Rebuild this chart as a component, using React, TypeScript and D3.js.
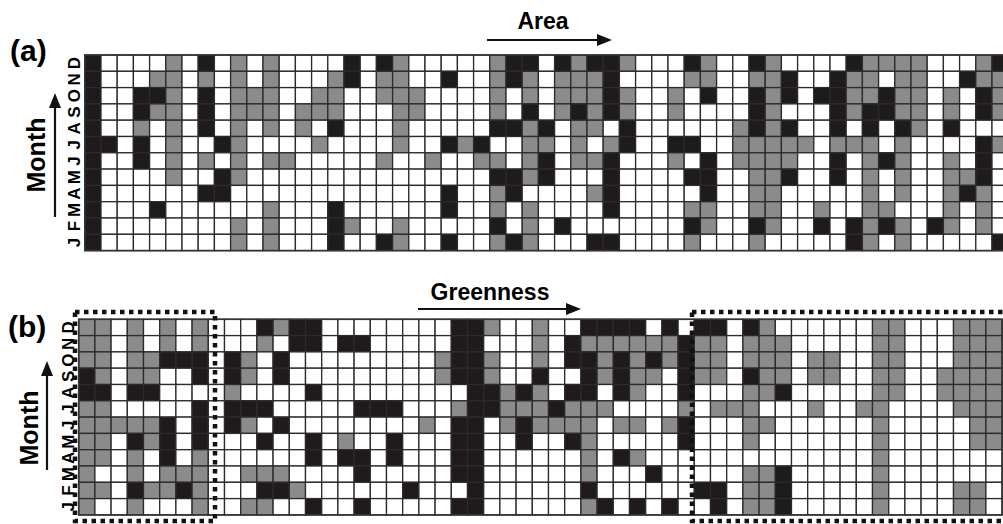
import React, { useEffect, useRef } from "react";
import * as d3 from "d3";

// month labels, bottom (Jan) to top (Dec)
const monthLabels = ["J", "F", "M", "A", "M", "J", "J", "A", "S", "O", "N", "D"];

// cell classes per row, listed top row (Dec) to bottom row (Jan)
// 0 = white, 1 = grey, 2 = black
const areaRows = [
  "200001020101" + "00002021000" + "00122021221" + "00021002100" + "002111100012",
  "200011010101" + "00012011002" + "00121011120" + "00011001120" + "021101100211",
  "200221020111" + "00110011100" + "00101011121" + "00102002120" + "221121101021",
  "200211020111" + "01110001100" + "00102012121" + "00100002100" + "021221101021",
  "200101020101" + "01020001000" + "00221201102" + "00000012120" + "020202102000",
  "220201002100" + "00100001002" + "12001101012" + "00220011111" + "011101000021",
  "200201010101" + "10000010010" + "01101201120" + "00102011110" + "020121001020",
  "200001002100" + "00000000000" + "00221200020" + "00022001120" + "020101001120",
  "200000022000" + "00000000002" + "00120000120" + "00002001100" + "000101001210",
  "200020000001" + "00020000002" + "00101000020" + "00011001100" + "100110001010",
  "200000000101" + "00021001000" + "00201020000" + "00021002100" + "202121021010",
  "200000000101" + "00020021002" + "00121000220" + "00010001000" + "002101000002",
];

const greennessRows = [
  "110101010002" + "12200000000" + "22100100222" + "20202202100" + "000011000111",
  "110101010001" + "02202200000" + "22000102111" + "11121101110" + "000011000111",
  "110112220210" + "20000000001" + "22100102212" + "12121101110" + "110011000111",
  "210110020210" + "20000000001" + "22100200212" + "11021102110" + "110011001111",
  "220220000100" + "00200000000" + "02212102202" + "10020001120" + "000011001111",
  "110000020222" + "00000222000" + "12211121110" + "00010111000" + "100110000111",
  "111112020210" + "20000000010" + "22012111101" + "10120001100" + "000010000011",
  "110212020002" + "00201002000" + "22002002100" + "00020001000" + "000010000011",
  "110102010000" + "00202202000" + "22000000102" + "10000000000" + "000010000000",
  "100101110011" + "10000200000" + "22000000100" + "02000001120" + "000010000000",
  "110211210002" + "21000000200" + "02000000200" + "00002201120" + "000010000110",
  "100100010011" + "00200200000" + "22000000120" + "20200201120" + "000010000110",
];

const fills = ["#ffffff", "#8b8b8b", "#1f1b1c"];
const CW = 16.2;
const RH = 16.3;
const FONT = "'Liberation Sans', Arial, sans-serif";

const panels = [
  {
    tag: "(a)", tagX: 10, tagY: 61,
    title: "Area", titleX: 543, titleY: 29, arrow: [487, 612, 40],
    rows: areaRows, x0: 84.8, y0: 55,
    monthX: 36, monthY: 155, upX: 55, upTop: 93, upBottom: 217, letterX: 74,
    boxes: [] as number[][],
  },
  {
    tag: "(b)", tagX: 8, tagY: 337,
    title: "Greenness", titleX: 490, titleY: 300, arrow: [418, 581, 309],
    rows: greennessRows, x0: 78.7, y0: 319.3,
    monthX: 29, monthY: 428, upX: 47, upTop: 361, upBottom: 470, letterX: 68,
    boxes: [[75, 215], [692, 1012]],
  },
];

export default function App() {
  const ref = useRef<SVGSVGElement>(null);

  useEffect(() => {
    const svg = d3.select(ref.current);
    svg.selectAll("*").remove();

    panels.forEach((p) => {
      const ncol = p.rows[0].length;
      const x = d3.scaleBand<number>().domain(d3.range(ncol)).range([p.x0, p.x0 + ncol * CW]);
      const y = d3.scaleBand<number>().domain(d3.range(12)).range([p.y0, p.y0 + 12 * RH]);
      const g = svg.append("g");

      const cells = p.rows.flatMap((row, r) =>
        row.split("").map((v, c) => ({ r, c, v: +v }))
      );
      g.selectAll("rect.cell")
        .data(cells)
        .join("rect")
        .attr("class", "cell")
        .attr("x", (d) => x(d.c)!)
        .attr("y", (d) => y(d.r)!)
        .attr("width", x.bandwidth())
        .attr("height", y.bandwidth())
        .attr("fill", (d) => fills[d.v])
        .attr("stroke", "#2b2b2b")
        .attr("stroke-width", 1.3);

      g.append("rect")
        .attr("x", p.x0)
        .attr("y", p.y0)
        .attr("width", ncol * CW)
        .attr("height", 12 * RH)
        .attr("fill", "none")
        .attr("stroke", "#333")
        .attr("stroke-width", 1.6);

      // month letters
      g.selectAll("text.month")
        .data(d3.range(12))
        .join("text")
        .attr("class", "month")
        .attr("transform", (r) => `translate(${p.letterX},${y(r)! + y.bandwidth() / 2}) rotate(-90)`)
        .attr("text-anchor", "middle")
        .attr("dominant-baseline", "central")
        .attr("font-family", FONT)
        .attr("font-weight", "bold")
        .attr("font-size", 17)
        .text((r) => monthLabels[11 - r]);

      // Month axis title with upward arrow
      g.append("text")
        .attr("transform", `translate(${p.monthX},${p.monthY}) rotate(-90)`)
        .attr("text-anchor", "middle")
        .attr("dominant-baseline", "central")
        .attr("font-family", FONT)
        .attr("font-weight", "bold")
        .attr("font-size", 25)
        .text("Month");
      g.append("line")
        .attr("x1", p.upX).attr("x2", p.upX)
        .attr("y1", p.upBottom).attr("y2", p.upTop + 10)
        .attr("stroke", "#111").attr("stroke-width", 2.2);
      g.append("path")
        .attr("d", `M${p.upX},${p.upTop} L${p.upX - 6},${p.upTop + 15} L${p.upX + 6},${p.upTop + 15} Z`)
        .attr("fill", "#111");

      // panel tag
      g.append("text")
        .attr("x", p.tagX)
        .attr("y", p.tagY)
        .attr("font-family", FONT)
        .attr("font-weight", "bold")
        .attr("font-size", 30)
        .text(p.tag);

      // title with rightward arrow
      g.append("text")
        .attr("x", p.titleX)
        .attr("y", p.titleY)
        .attr("text-anchor", "middle")
        .attr("font-family", FONT)
        .attr("font-weight", "bold")
        .attr("font-size", 23)
        .text(p.title);
      const [ax1, ax2, ay] = p.arrow;
      g.append("line")
        .attr("x1", ax1).attr("x2", ax2 - 10)
        .attr("y1", ay).attr("y2", ay)
        .attr("stroke", "#111").attr("stroke-width", 2.2);
      g.append("path")
        .attr("d", `M${ax2},${ay} L${ax2 - 15},${ay - 6} L${ax2 - 15},${ay + 6} Z`)
        .attr("fill", "#111");

      // dotted outline boxes
      p.boxes.forEach(([bx1, bx2]) => {
        g.append("rect")
          .attr("x", bx1)
          .attr("y", 312)
          .attr("width", bx2 - bx1)
          .attr("height", 209)
          .attr("fill", "none")
          .attr("stroke", "#111")
          .attr("stroke-width", 4.5)
          .attr("stroke-dasharray", "4.5 4.5");
      });
    });
  }, []);

  return (
    <>
      <style>{`body{margin:0}`}</style>
      <svg ref={ref} width={1003} height={524} style={{ display: "block", background: "#fff" }} />
    </>
  );
}
